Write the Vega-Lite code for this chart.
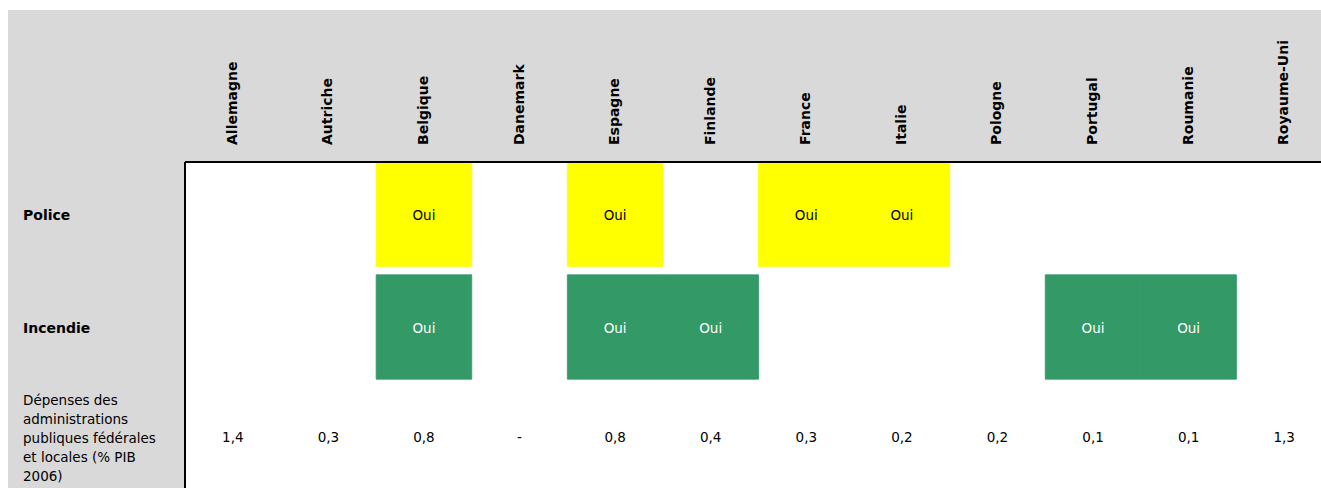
{
  "$schema": "https://vega.github.io/schema/vega-lite/v6.json",
  "background": "white",
  "padding": {"left": 8, "top": 10, "right": 0, "bottom": 0},
  "spacing": 0,
  "bounds": "flush",
  "columns": 2,
  "config": {
    "view": {"stroke": null},
    "text": {"font": "DejaVu Sans", "color": "#000000"},
    "concat": {"spacing": 0}
  },
  "datasets": {
    "pays": [
      {"pays": "Allemagne"}, {"pays": "Autriche"}, {"pays": "Belgique"}, {"pays": "Danemark"},
      {"pays": "Espagne"}, {"pays": "Finlande"}, {"pays": "France"}, {"pays": "Italie"},
      {"pays": "Pologne"}, {"pays": "Portugal"}, {"pays": "Roumanie"}, {"pays": "Royaume-Uni"}
    ],
    "cellules": [
      {"pays": "Belgique", "ligne": "Police", "valeur": "Oui"},
      {"pays": "Espagne", "ligne": "Police", "valeur": "Oui"},
      {"pays": "France", "ligne": "Police", "valeur": "Oui"},
      {"pays": "Italie", "ligne": "Police", "valeur": "Oui"},
      {"pays": "Belgique", "ligne": "Incendie", "valeur": "Oui"},
      {"pays": "Espagne", "ligne": "Incendie", "valeur": "Oui"},
      {"pays": "Finlande", "ligne": "Incendie", "valeur": "Oui"},
      {"pays": "Portugal", "ligne": "Incendie", "valeur": "Oui"},
      {"pays": "Roumanie", "ligne": "Incendie", "valeur": "Oui"},
      {"pays": "Allemagne", "ligne": "Dépenses", "valeur": "1,4"},
      {"pays": "Autriche", "ligne": "Dépenses", "valeur": "0,3"},
      {"pays": "Belgique", "ligne": "Dépenses", "valeur": "0,8"},
      {"pays": "Danemark", "ligne": "Dépenses", "valeur": "-"},
      {"pays": "Espagne", "ligne": "Dépenses", "valeur": "0,8"},
      {"pays": "Finlande", "ligne": "Dépenses", "valeur": "0,4"},
      {"pays": "France", "ligne": "Dépenses", "valeur": "0,3"},
      {"pays": "Italie", "ligne": "Dépenses", "valeur": "0,2"},
      {"pays": "Pologne", "ligne": "Dépenses", "valeur": "0,2"},
      {"pays": "Portugal", "ligne": "Dépenses", "valeur": "0,1"},
      {"pays": "Roumanie", "ligne": "Dépenses", "valeur": "0,1"},
      {"pays": "Royaume-Uni", "ligne": "Dépenses", "valeur": "1,3"}
    ],
    "lignes": [
      {"ligne": "Police", "libelle": "Police"},
      {"ligne": "Incendie", "libelle": "Incendie"},
      {"ligne": "Dépenses", "libelle": ["Dépenses des", "administrations", "publiques fédérales", "et locales (% PIB", "2006)"]}
    ]
  },
  "concat": [
    {
      "width": 177,
      "height": 152,
      "view": {"fill": "#d9d9d9", "stroke": null},
      "data": {"values": [{}]},
      "mark": "text",
      "encoding": {"text": {"value": ""}}
    },
    {
      "width": 1136,
      "height": 152,
      "view": {"fill": "#d9d9d9", "stroke": null},
      "data": {"name": "pays"},
      "mark": {"type": "text", "angle": 270, "align": "left", "baseline": "middle", "fontWeight": "bold", "fontSize": 14, "dx": 17},
      "encoding": {
        "x": {
          "field": "pays", "type": "nominal", "sort": null, "axis": null,
          "scale": {"type": "band", "domain": ["Allemagne", "Autriche", "Belgique", "Danemark", "Espagne", "Finlande", "France", "Italie", "Pologne", "Portugal", "Roumanie", "Royaume-Uni"], "range": [0, 1147], "paddingInner": 0, "paddingOuter": 0}
        },
        "y": {"datum": 0, "type": "quantitative", "scale": {"domain": [0, 1]}, "axis": null},
        "text": {"field": "pays", "type": "nominal"}
      }
    },
    {
      "width": 177,
      "height": 326,
      "view": {"fill": "#d9d9d9", "stroke": null},
      "data": {"name": "lignes"},
      "layer": [
        {
          "transform": [{"filter": "datum.ligne !== 'Dépenses'"}],
          "mark": {"type": "text", "align": "left", "baseline": "middle", "fontWeight": "bold", "fontSize": 14, "dx": 15, "dy": 2},
          "encoding": {
            "x": {"datum": 0, "type": "quantitative", "scale": {"domain": [0, 1]}, "axis": null},
            "y": {"field": "ligne", "type": "nominal", "axis": null, "scale": {"type": "band", "domain": ["Police", "Incendie", "Dépenses"], "range": [0, 330], "paddingInner": 0.075, "paddingOuter": 0}},
            "text": {"field": "libelle", "type": "nominal"}
          }
        },
        {
          "transform": [{"filter": "datum.ligne === 'Dépenses'"}],
          "mark": {"type": "text", "align": "left", "baseline": "middle", "fontSize": 13.5, "lineHeight": 19, "dx": 15, "dy": -39},
          "encoding": {
            "x": {"datum": 0, "type": "quantitative", "scale": {"domain": [0, 1]}, "axis": null},
            "y": {"field": "ligne", "type": "nominal", "axis": null, "scale": {"type": "band", "domain": ["Police", "Incendie", "Dépenses"], "range": [0, 330], "paddingInner": 0.075, "paddingOuter": 0}},
            "text": {"field": "libelle", "type": "nominal"}
          }
        }
      ]
    },
    {
      "width": 1136,
      "height": 326,
      "data": {"name": "cellules"},
      "layer": [
        {
          "transform": [{"filter": "datum.valeur === 'Oui'"}],
          "mark": {"type": "rect", "strokeWidth": 0.8},
          "encoding": {
            "x": {"field": "pays", "type": "nominal", "sort": null, "axis": null,
              "scale": {"type": "band", "domain": ["Allemagne", "Autriche", "Belgique", "Danemark", "Espagne", "Finlande", "France", "Italie", "Pologne", "Portugal", "Roumanie", "Royaume-Uni"], "range": [0, 1147], "paddingInner": 0, "paddingOuter": 0}},
            "y": {"field": "ligne", "type": "nominal", "axis": null, "scale": {"type": "band", "domain": ["Police", "Incendie", "Dépenses"], "range": [0, 330], "paddingInner": 0.075, "paddingOuter": 0}},
            "color": {"field": "ligne", "type": "nominal", "legend": null, "scale": {"domain": ["Police", "Incendie"], "range": ["#ffff00", "#339966"]}},
            "stroke": {"field": "ligne", "type": "nominal", "legend": null, "scale": {"domain": ["Police", "Incendie"], "range": ["#ffff00", "#339966"]}}
          }
        },
        {
          "transform": [{"filter": "datum.valeur === 'Oui'"}],
          "mark": {"type": "text", "align": "center", "baseline": "middle", "fontSize": 13.5, "dy": 2},
          "encoding": {
            "x": {"field": "pays", "type": "nominal", "sort": null, "axis": null,
              "scale": {"type": "band", "domain": ["Allemagne", "Autriche", "Belgique", "Danemark", "Espagne", "Finlande", "France", "Italie", "Pologne", "Portugal", "Roumanie", "Royaume-Uni"], "range": [0, 1147], "paddingInner": 0, "paddingOuter": 0}},
            "y": {"field": "ligne", "type": "nominal", "axis": null, "scale": {"type": "band", "domain": ["Police", "Incendie", "Dépenses"], "range": [0, 330], "paddingInner": 0.075, "paddingOuter": 0}},
            "text": {"field": "valeur", "type": "nominal"},
            "color": {"condition": {"test": "datum.ligne === 'Incendie'", "value": "#ffffff"}, "value": "#000000"}
          }
        },
        {
          "transform": [{"filter": "datum.ligne === 'Dépenses'"}],
          "mark": {"type": "text", "align": "center", "baseline": "middle", "fontSize": 13.5, "dy": -2, "color": "#000000"},
          "encoding": {
            "x": {"field": "pays", "type": "nominal", "sort": null, "axis": null,
              "scale": {"type": "band", "domain": ["Allemagne", "Autriche", "Belgique", "Danemark", "Espagne", "Finlande", "France", "Italie", "Pologne", "Portugal", "Roumanie", "Royaume-Uni"], "range": [0, 1147], "paddingInner": 0, "paddingOuter": 0}},
            "y": {"field": "ligne", "type": "nominal", "axis": null, "scale": {"type": "band", "domain": ["Police", "Incendie", "Dépenses"], "range": [0, 330], "paddingInner": 0.075, "paddingOuter": 0}},
            "text": {"field": "valeur", "type": "nominal"}
          }
        },
        {
          "mark": {"type": "rule", "color": "#000000", "strokeWidth": 2},
          "encoding": {
            "y": {"datum": "Police", "type": "nominal", "bandPosition": 0}
          }
        },
        {
          "mark": {"type": "rule", "color": "#000000", "strokeWidth": 2},
          "encoding": {
            "x": {"datum": "Allemagne", "type": "nominal", "bandPosition": 0}
          }
        }
      ]
    }
  ]
}
